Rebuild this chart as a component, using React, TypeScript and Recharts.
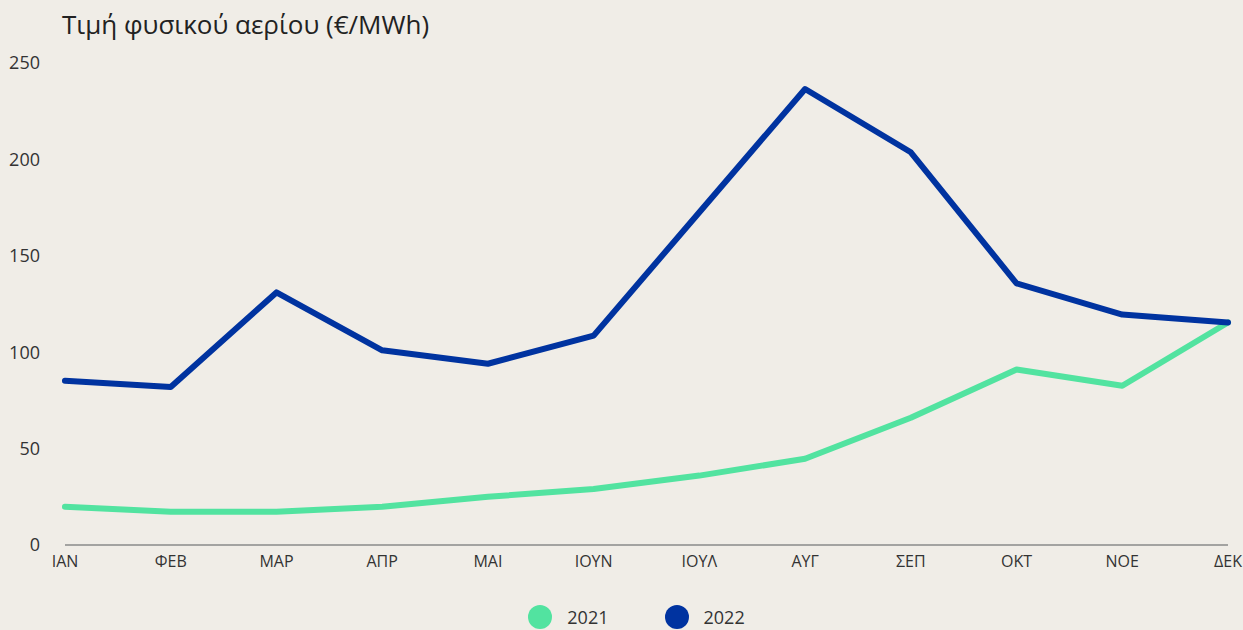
import { LineChart, Line, XAxis, YAxis, Legend } from "recharts";

const MONTHS = ["ΙΑΝ", "ΦΕΒ", "ΜΑΡ", "ΑΠΡ", "ΜΑΙ", "ΙΟΥΝ", "ΙΟΥΛ", "ΑΥΓ", "ΣΕΠ", "ΟΚΤ", "ΝΟΕ", "ΔΕΚ"];
const PRICES_2021 = [19.8, 17.2, 17.2, 19.8, 25, 29, 36, 44.7, 66, 91, 82.6, 115.4];
const PRICES_2022 = [85.2, 82, 131, 101, 94, 108.6, 172.6, 236.5, 203.7, 135.7, 119.5, 115.4];
const Y_TICKS = [0, 50, 100, 150, 200, 250];

const GREEN = "#52e3a0";
const BLUE = "#0033a0";
const BG = "#f0ede7";
const FONT = "'Open Sans', 'Noto Sans', sans-serif";

const data = MONTHS.map((m, i) => ({ month: m, y2021: PRICES_2021[i], y2022: PRICES_2022[i] }));

function LegendContent() {
  const items = [
    { label: "2021", color: GREEN },
    { label: "2022", color: BLUE },
  ];
  return (
    <div style={{ display: "flex", justifyContent: "center", alignItems: "center", height: 30, gap: 56, paddingLeft: 30 }}>
      {items.map((it) => (
        <div key={it.label} style={{ display: "flex", alignItems: "center", gap: 15 }}>
          <span style={{ width: 24, height: 24, borderRadius: "50%", background: it.color, display: "inline-block" }} />
          <span style={{ fontSize: 18, color: "#333", fontFamily: FONT }}>{it.label}</span>
        </div>
      ))}
    </div>
  );
}

export default function App() {
  return (
    <div style={{ position: "relative", width: 1243, height: 630, background: BG, fontFamily: FONT }}>
      <style>{"body{margin:0}"}</style>
      <div style={{ position: "absolute", left: 62, top: 6, fontSize: 26, color: "#222" }}>
        Τιμή φυσικού αερίου (€/MWh)
      </div>
      <LineChart width={1243} height={630} data={data} margin={{ top: 63, right: 15, left: 10, bottom: 25 }}>
        <XAxis
          dataKey="month"
          axisLine={{ stroke: "#8a8a8a", strokeWidth: 1.5 }}
          tickLine={false}
          tickMargin={5}
          interval={0}
          height={30}
          tick={{ fill: "#333", fontSize: 16 }}
        />
        <YAxis
          domain={[0, 250]}
          ticks={Y_TICKS}
          axisLine={false}
          tickLine={false}
          tickMargin={19}
          width={55}
          tick={{ fill: "#333", fontSize: 18 }}
        />
        <Legend
          verticalAlign="bottom"
          content={<LegendContent />}
          wrapperStyle={{ top: 602, left: 0, width: 1243, height: 30 }}
        />
        <Line
          type="linear"
          dataKey="y2021"
          stroke={GREEN}
          strokeWidth={6}
          dot={false}
          strokeLinejoin="round"
          strokeLinecap="round"
          isAnimationActive={false}
        />
        <Line
          type="linear"
          dataKey="y2022"
          stroke={BLUE}
          strokeWidth={6}
          dot={false}
          strokeLinejoin="round"
          strokeLinecap="round"
          isAnimationActive={false}
        />
      </LineChart>
    </div>
  );
}
